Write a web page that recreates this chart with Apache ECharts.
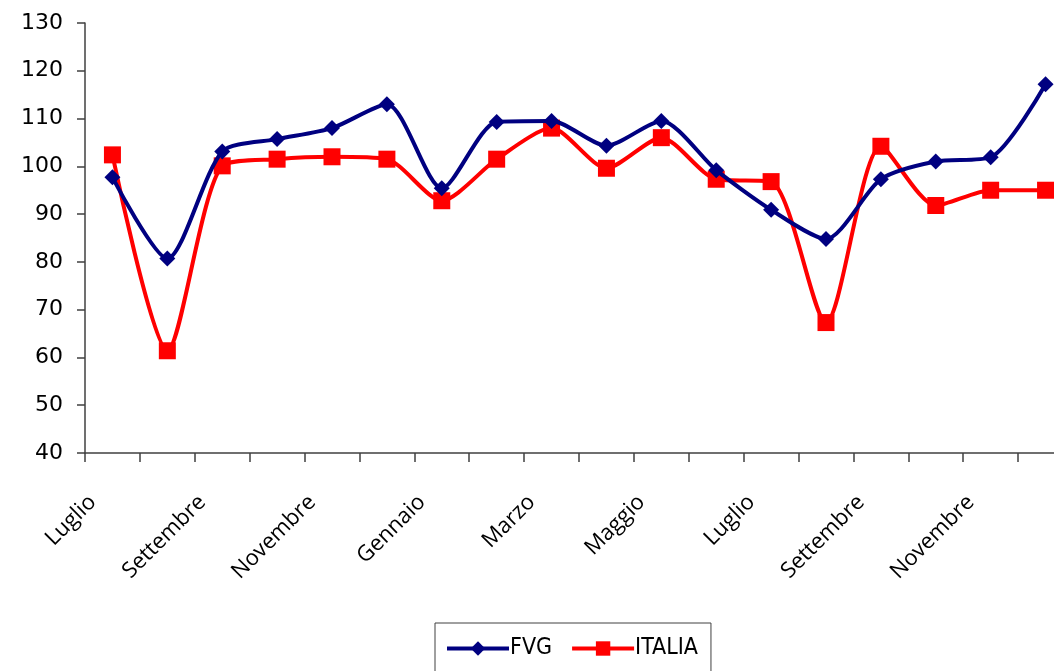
<!DOCTYPE html>
<html>
<head>
<meta charset="utf-8">
<script src="https://cdn.jsdelivr.net/npm/echarts@6/dist/echarts.min.js"></script>
<style>html,body{margin:0;padding:0;background:#fff}#c{width:1054px;height:671px}</style>
</head>
<body>
<div id="c"></div>
<script>
const categories = ['Luglio','Agosto','Settembre','Ottobre','Novembre','Dicembre','Gennaio','Febbraio','Marzo','Aprile','Maggio','Giugno','Luglio','Agosto','Settembre','Ottobre','Novembre','Dicembre'];
const fvg =    [97.7, 80.7, 103.1, 105.7, 108.0, 113.0, 95.4, 109.3, 109.5, 104.3, 109.5, 99.2, 90.9, 84.8, 97.3, 101.0, 101.9, 117.2];
const italia = [102.4, 61.4, 100.1, 101.5, 102.0, 101.5, 92.8, 101.5, 108.0, 99.6, 106.0, 97.3, 96.8, 67.3, 104.2, 91.8, 95.0, 95.0];
const yTicks = {min: 40, max: 130, interval: 10};

const chart = echarts.init(document.getElementById('c'), null, {renderer: 'canvas'});
chart.setOption({
  animation: false,
  backgroundColor: '#ffffff',
  grid: {left: 85, top: 23, height: 430, width: 988, containLabel: false, outerBoundsMode: 'none'},
  legend: {
    top: 623,
    left: 435,
    orient: 'horizontal',
    padding: [14, 13, 40, 10],
    borderColor: '#404040',
    borderWidth: 1,
    itemWidth: 62,
    itemHeight: 18,
    itemGap: 18,
    lineStyle: {width: 4},
    textStyle: {fontFamily: '"DejaVu Sans Condensed", "Liberation Sans", sans-serif', fontSize: 23, color: '#000', padding: [0,0,0,-4]},
    data: ['FVG', 'ITALIA']
  },
  xAxis: {
    type: 'category',
    data: categories,
    boundaryGap: true,
    axisLine: {lineStyle: {color: '#404040', width: 1.5}},
    axisTick: {show: true, interval: 0, length: 9, lineStyle: {color: '#404040', width: 1.5}},
    axisLabel: {
      interval: 1,
      rotate: 45,
      margin: 26,
      padding: [0, 28, 0, 0],
      fontFamily: '"Open Sans", sans-serif',
      fontSize: 22,
      color: '#000'
    },
    splitLine: {show: false}
  },
  yAxis: {
    type: 'value',
    min: yTicks.min, max: yTicks.max, interval: yTicks.interval,
    axisLine: {show: true, lineStyle: {color: '#404040', width: 1.5}},
    axisTick: {show: true, length: 8, lineStyle: {color: '#404040', width: 1.5}},
    axisLabel: {margin: 22, fontFamily: '"DejaVu Sans", sans-serif', fontSize: 22, color: '#000'},
    splitLine: {show: false}
  },
  series: [
    {
      name: 'FVG', type: 'line', data: fvg, smooth: 0.25,
      symbol: 'diamond', symbolSize: 16,
      lineStyle: {color: '#000080', width: 4},
      itemStyle: {color: '#000080'},
      z: 3
    },
    {
      name: 'ITALIA', type: 'line', data: italia, smooth: 0.25,
      symbol: 'rect', symbolSize: 17,
      lineStyle: {color: '#ff0000', width: 4},
      itemStyle: {color: '#ff0000'},
      z: 2
    }
  ]
});
</script>
</body>
</html>
